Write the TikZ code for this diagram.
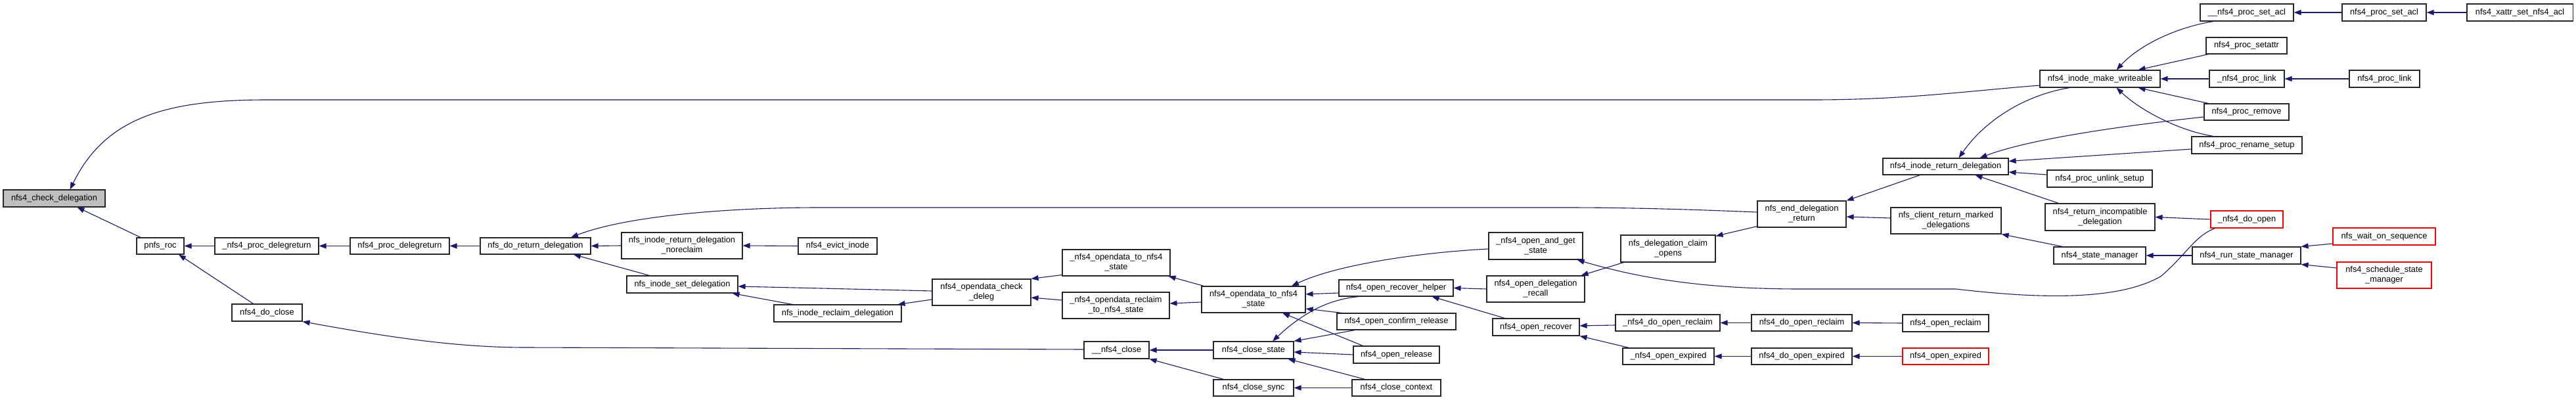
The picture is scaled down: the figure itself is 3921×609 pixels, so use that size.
\documentclass[tikz,border=0pt]{standalone}
\usepackage{fontspec}
\setmainfont{Liberation Sans}
\usetikzlibrary{arrows.meta}
\definecolor{edgecol}{RGB}{25,25,112}
\definecolor{rootfill}{RGB}{191,191,191}
\newcommand\mkbox[7][nbox]{%
  \pgfmathsetmacro\mkbw{#4-#3}\pgfmathsetmacro\mkbh{#6-#5}%
  \pgfmathsetmacro\mkbcx{(#3+#4)/2}\pgfmathsetmacro\mkbcy{(#5+#6)/2}%
  \node[#1, minimum width=\mkbw pt, minimum height=\mkbh pt] (#2) at (\mkbcx,\mkbcy) {#7};}
\begin{document}
\begin{tikzpicture}[x=1pt,y=-1pt,
  nbox/.style={draw=black!85, line width=1.1pt, inner sep=0pt, align=center,
    font=\fontsize{12.8}{15}\selectfont, fill=white},
  rootbox/.style={nbox, fill=rootfill},
  redbox/.style={nbox, draw=red},
  cedge/.style={draw=edgecol, line width=1.1pt, {Triangle[length=11pt,width=8pt]}-}]
\useasboundingbox (0,0) rectangle (3921,609);

\mkbox[rootbox]{chk}{5}{160}{289}{315}{nfs4\_check\_delegation}
\mkbox{pnfs}{208}{280}{362}{387}{pnfs\_roc}
\mkbox{pdrA}{327}{485}{362}{387}{\_nfs4\_proc\_delegreturn}
\mkbox{pdr}{533}{684}{362}{387}{nfs4\_proc\_delegreturn}
\mkbox{doclose}{353}{460}{463}{489}{nfs4\_do\_close}
\mkbox{doret}{731}{899}{362}{387}{nfs\_do\_return\_delegation}
\mkbox{noreclaim}{946}{1130}{354}{394}{nfs\_inode\_return\_delegation\\\_noreclaim}
\mkbox{evict}{1215}{1335}{362}{387}{nfs4\_evict\_inode}
\mkbox{setdel}{954}{1123}{420}{446}{nfs\_inode\_set\_delegation}
\mkbox{reclaimdel}{1178}{1372}{464}{490}{nfs\_inode\_reclaim\_delegation}
\mkbox{chkdeleg}{1419}{1569}{425}{465}{nfs4\_opendata\_check\\\_deleg}
\mkbox{odsA}{1617}{1781}{380}{420}{\_nfs4\_opendata\_to\_nfs4\\\_state}
\mkbox{odrs}{1617}{1780}{445}{485}{\_nfs4\_opendata\_reclaim\\\_to\_nfs4\_state}
\mkbox{ods}{1829}{1987}{436}{476}{nfs4\_opendata\_to\_nfs4\\\_state}
\mkbox{closeA}{1650}{1749}{520}{546}{\_\_nfs4\_close}
\mkbox{closestate}{1847}{1969}{520}{546}{nfs4\_close\_state}
\mkbox{closesync}{1847}{1969}{578}{603}{nfs4\_close\_sync}
\mkbox{helper}{2038}{2212}{426}{451}{nfs4\_open\_recover\_helper}
\mkbox{confirm}{2035}{2216}{477}{502}{nfs4\_open\_confirm\_release}
\mkbox{openrel}{2060}{2191}{527}{553}{nfs4\_open\_release}
\mkbox{closectx}{2058}{2193}{578}{603}{nfs4\_close\_context}
\mkbox{andget}{2266}{2409}{354}{395}{\_nfs4\_open\_and\_get\\\_state}
\mkbox{recall}{2263}{2412}{420}{460}{nfs4\_open\_delegation\\\_recall}
\mkbox{recover}{2272}{2404}{485}{511}{nfs4\_open\_recover}
\mkbox{claim}{2467}{2611}{358}{399}{nfs\_delegation\_claim\\\_opens}
\mkbox{doreclaimA}{2459}{2618}{479}{504}{\_nfs4\_do\_open\_reclaim}
\mkbox{expiredA}{2470}{2609}{530}{555}{\_nfs4\_open\_expired}
\mkbox{enddel}{2675}{2810}{306}{346}{nfs\_end\_delegation\\\_return}
\mkbox{doreclaim}{2666}{2819}{479}{504}{nfs4\_do\_open\_reclaim}
\mkbox{doexpired}{2666}{2819}{530}{555}{nfs4\_do\_open\_expired}
\mkbox{marked}{2878}{3046}{316}{356}{nfs\_client\_return\_marked\\\_delegations}
\mkbox{retdel}{2866}{3057}{241}{266}{nfs4\_inode\_return\_delegation}
\mkbox{openreclaim}{2896}{3027}{479}{505}{nfs4\_open\_reclaim}
\mkbox[redbox]{openexpired}{2896}{3027}{530}{555}{nfs4\_open\_expired}
\mkbox{writeable}{3105}{3288}{107}{133}{nfs4\_inode\_make\_writeable}
\mkbox{unlink}{3116}{3276}{259}{285}{nfs4\_proc\_unlink\_setup}
\mkbox{incompat}{3113}{3280}{310}{351}{nfs4\_return\_incompatible\\\_delegation}
\mkbox{statemgr}{3126}{3266}{376}{402}{nfs4\_state\_manager}
\mkbox{setaclA}{3349}{3491}{6}{32}{\_\_nfs4\_proc\_set\_acl}
\mkbox{setattr}{3358}{3481}{57}{82}{nfs4\_proc\_setattr}
\mkbox{linkA}{3363}{3477}{107}{133}{\_nfs4\_proc\_link}
\mkbox{remove}{3355}{3484}{158}{183}{nfs4\_proc\_remove}
\mkbox{rename}{3336}{3504}{208}{234}{nfs4\_proc\_rename\_setup}
\mkbox[redbox]{doopen}{3365}{3475}{321}{347}{\_nfs4\_do\_open}
\mkbox{runmgr}{3337}{3502}{376}{402}{nfs4\_run\_state\_manager}
\mkbox{setacl}{3565}{3693}{6}{32}{nfs4\_proc\_set\_acl}
\mkbox{link}{3576}{3683}{107}{133}{nfs4\_proc\_link}
\mkbox{xattr}{3755}{3916}{6}{32}{nfs4\_xattr\_set\_nfs4\_acl}
\mkbox[redbox]{waitseq}{3551}{3707}{347}{373}{nfs\_wait\_on\_sequence}
\mkbox[redbox]{schedmgr}{3557}{3701}{399}{439}{nfs4\_schedule\_state\\\_manager}

% edges (arrow tip at the callee)
\draw[cedge] ([xshift=24pt]chk.north) .. controls (160,180) and (250,152) .. (406,152) -- (2760,152) .. controls (2900,152) and (3000,138) .. ([yshift=-10pt]writeable.west);
\draw[cedge] ([xshift=35pt]chk.south) -- ([xshift=-30pt]pnfs.north);
\draw[cedge] (pnfs.east) -- (pdrA.west);
\draw[cedge] ([xshift=28pt]pnfs.south) -- ([xshift=-21pt]doclose.north);
\draw[cedge] (pdrA.east) -- (pdr.west);
\draw[cedge] (pdr.east) -- (doret.west);
\draw[cedge] (doret.east) -- (noreclaim.west);
\draw[cedge] ([xshift=58pt]doret.south) -- ([xshift=-50pt]setdel.north);
\draw[cedge] ([xshift=54pt]doret.north) .. controls (950,330) and (1100,316) .. (1248,316) -- (2380,316) .. controls (2500,316) and (2600,320) .. ([yshift=3pt]enddel.west);
\draw[cedge] (noreclaim.east) -- (evict.west);
\draw[cedge] ([xshift=76pt]setdel.south) -- ([xshift=-69pt]reclaimdel.north);
\draw[cedge] ([yshift=-3pt]setdel.east) -- ([yshift=2pt]chkdeleg.west);
\draw[cedge] ([xshift=-6pt]reclaimdel.north east) -- ([yshift=-11pt]chkdeleg.west);
\draw[cedge] (chkdeleg.north east) -- ([yshift=2pt]odsA.south west);
\draw[cedge] ([yshift=-8pt]chkdeleg.east) -- ([yshift=8pt]odrs.west);
\draw[cedge] ([xshift=-3pt]odsA.south east) -- ([xshift=4pt]ods.north west);
\draw[cedge] ([yshift=3pt]odrs.east) -- ([yshift=-4pt]ods.west);
\draw[cedge] (doclose.south east) .. controls (600,515) and (700,529) .. (800,529) -- ([yshift=1pt]closeA.west);
\draw[cedge] (closeA.east) -- (closestate.west);
\draw[cedge] (closeA.south east) -- ([xshift=16pt]closesync.north west);
\draw[cedge] ([yshift=8pt]ods.east) -- ([yshift=-7.5pt]helper.west);
\draw[cedge] ([yshift=-14pt]ods.east) -- ([xshift=8pt]confirm.north west);
\draw[cedge] ([xshift=44pt]ods.south) -- ([xshift=15pt]openrel.north west);
\draw[cedge] ([xshift=58pt]ods.north) .. controls (2030,405) and (2150,385) .. ([yshift=-4.5pt]andget.west);
\draw[cedge] ([xshift=29pt]closestate.north) .. controls (1990,470) and (2030,455) .. ([xshift=31pt]helper.south west);
\draw[cedge] (closestate.north east) -- ([xshift=28pt]confirm.south west);
\draw[cedge] ([yshift=-3pt]closestate.east) -- (openrel.west);
\draw[cedge] ([xshift=-9pt]closestate.south east) -- ([xshift=20pt]closectx.north west);
\draw[cedge] (closesync.east) -- (closectx.west);
\draw[cedge] (helper.east) -- (recall.west);
\draw[cedge] ([xshift=-33pt]helper.south east) -- ([xshift=19pt]recover.north west);
\draw[cedge] ([xshift=-6pt]recall.north east) -- ([xshift=5pt]claim.south west);
\draw[cedge] ([yshift=-2pt]claim.north east) -- ([yshift=2pt]enddel.south west);
\draw[cedge] ([yshift=-4pt]enddel.east) -- ([yshift=4pt]marked.west);
\draw[cedge] (enddel.north east) -- ([xshift=57pt]retdel.south west);
\draw[cedge] ([yshift=2pt]recover.east) -- ([yshift=-3.5pt]doreclaimA.west);
\draw[cedge] (recover.south east) -- ([xshift=10pt]expiredA.north west);
\draw[cedge] (doreclaimA.east) -- (doreclaim.west);
\draw[cedge] (doreclaim.east) -- (openreclaim.west);
\draw[cedge] (expiredA.east) -- (doexpired.west);
\draw[cedge] (doexpired.east) -- (openexpired.west);
\draw[cedge] ([xshift=-9pt]andget.south east) .. controls (2500,425) and (2600,440) .. (2740,440) -- (2977,440) .. controls (3080,452) and (3220,462) .. (3290,420) .. controls (3330,385) and (3340,360) .. ([xshift=7pt]doopen.south west);
\draw[cedge] (incompat.east) -- (doopen.west);
\draw[cedge] (marked.south east) -- ([xshift=14pt]statemgr.north west);
\draw[cedge] (statemgr.east) -- (runmgr.west);
\draw[cedge] (runmgr.north east) -- ([yshift=-11pt]waitseq.west);
\draw[cedge] (runmgr.south east) -- ([yshift=11pt]schedmgr.west);
\draw[cedge] ([xshift=20pt]retdel.north) .. controls (3020,185) and (3080,145) .. ([xshift=46pt]writeable.south west);
\draw[cedge] ([xshift=52pt]retdel.north) .. controls (3080,215) and (3200,195) .. ([yshift=-7.5pt]remove.west);
\draw[cedge] ([yshift=-5pt]retdel.north east) -- ([yshift=-6pt]rename.west);
\draw[cedge] ([yshift=-8.5pt]retdel.east) -- ([yshift=6pt]unlink.west);
\draw[cedge] ([xshift=45pt]retdel.south) -- ([xshift=21pt]incompat.north west);
\draw[cedge] ([xshift=25pt]writeable.north) .. controls (3260,65) and (3320,40) .. ([xshift=21pt]setaclA.south west);
\draw[cedge] ([xshift=58pt]writeable.north) -- ([xshift=4pt]setattr.south west);
\draw[cedge] (writeable.east) -- (linkA.west);
\draw[cedge] ([xshift=58pt]writeable.south) -- ([xshift=7pt]remove.north west);
\draw[cedge] ([xshift=25pt]writeable.south) .. controls (3260,170) and (3320,200) .. ([xshift=34pt]rename.north west);
\draw[cedge] (setaclA.east) -- (setacl.west);
\draw[cedge] (setacl.east) -- (xattr.west);
\draw[cedge] (linkA.east) -- (link.west);
\end{tikzpicture}
\end{document}
